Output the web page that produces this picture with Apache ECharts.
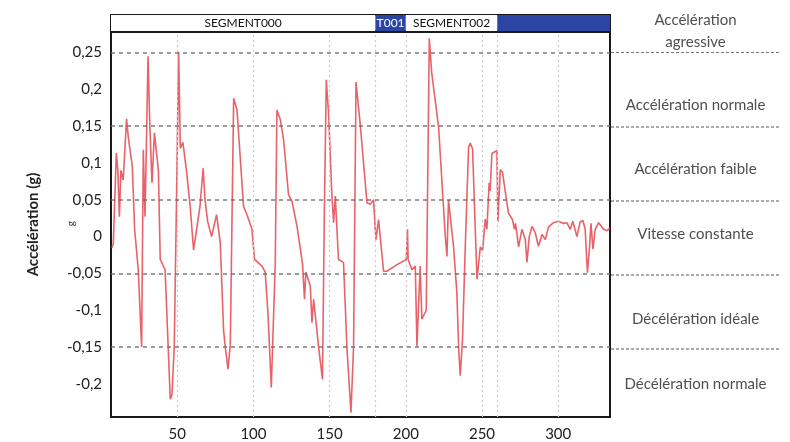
<!DOCTYPE html>
<html>
<head>
<meta charset="utf-8">
<script src="https://cdn.jsdelivr.net/npm/echarts@6/dist/echarts.min.js"></script>
<style>
    html, body { margin: 0; padding: 0; background: #fff; }
    #main { width: 790px; height: 442px; }
</style>
</head>
<body>
<div id="main"></div>
<script>
// temps (s) et accélération (g)
var timeS = [7, 8, 10, 11, 12, 13, 14.5, 16.7, 17.8, 20.5, 22, 24.4, 26.6, 27.7, 28.8, 29.5, 30.8, 32, 33.4, 35,
    37.6, 38.8, 42, 45.4, 46.5, 48, 49.5, 50.9, 52, 53.7, 56, 58.5, 60.7, 62, 64.9, 67, 68.2, 70, 72.5, 75.8,
    77, 78.2, 80.4, 81.5, 83.3, 84.8, 87, 89.2, 93.5, 95.7, 99, 100.7, 105.6, 107.7, 109.5, 111.7, 114.3, 115.4, 117.6, 119.8,
    123, 125.3, 128.6, 132.2, 133.5, 134.4, 137.3, 138.4, 139.5, 142.7, 145.3, 146.5, 147.8, 149.3, 151.5, 152.6, 153.7, 155.8, 159.1, 161.4,
    164, 165.7, 167.3, 170, 174.5, 176.6, 178.8, 180.4, 182.1, 185.4, 187.6, 194.2, 200.3, 201.1, 201.5, 204, 206.2, 207.3, 209.4, 210.5,
    213.4, 215.4, 217, 221.5, 225.9, 227, 228, 228.6, 231.3, 233.5, 234.6, 235.7, 237.2, 239, 241.2, 242.3, 243.8, 246.7, 248.9, 250.4,
    252.1, 253.2, 254.7, 255.3, 256.5, 259.8, 260.4, 262, 263.5, 265.2, 267.4, 270, 271.3, 272, 274, 276.2, 278.4, 279.5, 281, 282.8,
    285, 287, 289.4, 291.5, 293.6, 296.9, 300.2, 303.5, 305.7, 307.9, 309.6, 312.3, 314.4, 316.2, 317.7, 319.2, 320.6, 321.5, 322.8, 324.3,
    326.5, 329.8, 332, 334];
var accelG = [-0.015, -0.01, 0.114, 0.09, 0.027, 0.09, 0.077, 0.16, 0.136, 0.095, 0.01, -0.045, -0.15, 0.118, 0.027, 0.1, 0.245, 0.15, 0.073, 0.141,
    0.09, -0.031, -0.045, -0.221, -0.215, -0.15, 0.05, 0.251, 0.12, 0.128, 0.09, 0.04, -0.018, -0.016, 0.041, 0.093, 0.05, 0.02, 0.0, 0.03,
    0.03, -0.008, -0.128, -0.15, -0.18, -0.146, 0.188, 0.172, 0.041, 0.03, 0.01, -0.031, -0.04, -0.048, -0.103, -0.205, -0.037, 0.172, 0.159, 0.131,
    0.057, 0.048, 0.014, -0.037, -0.085, -0.048, -0.067, -0.117, -0.085, -0.149, -0.194, 0.03, 0.213, 0.167, 0.055, 0.019, 0.055, -0.031, -0.035, -0.153,
    -0.239, -0.149, 0.21, 0.154, 0.046, 0.044, 0.05, -0.004, 0.023, -0.047, -0.047, -0.038, -0.031, 0.01, -0.031, -0.045, -0.04, -0.149, -0.04, -0.112,
    -0.1, 0.269, 0.222, 0.149, 0.0, -0.027, 0.05, 0.05, -0.013, -0.076, -0.148, -0.189, -0.14, -0.014, 0.122, 0.127, 0.119, -0.058, -0.014, -0.019,
    0.024, 0.01, 0.073, 0.062, 0.113, 0.117, 0.02, 0.091, 0.087, 0.062, 0.032, 0.023, 0.01, 0.018, -0.014, 0.01, -0.004, -0.035, 0.0, 0.014,
    0.005, -0.013, 0.003, -0.004, 0.013, 0.019, 0.021, 0.018, 0.019, 0.01, 0.021, 0.0, 0.02, 0.022, 0.01, -0.049, -0.013, 0.018, -0.017, 0.01,
    0.019, 0.01, 0.008, 0.012];

var xTicks = [50, 100, 150, 200, 250, 300];
var yTicks = [-0.2, -0.15, -0.1, -0.05, 0, 0.05, 0.1, 0.15, 0.2, 0.25];
var thresholds = [0.25, 0.15, 0.05, -0.05, -0.15];

// segments du bandeau du haut
var segNames = ['SEGMENT000', 'T001', 'SEGMENT002', ''];
var segStart = [6.5, 180, 200, 260];
var segEnd = [180, 200, 260, 334];
var segBlue = [false, true, false, true];

// zones à droite
var zoneNames = ['Accélération\nagressive', 'Accélération normale', 'Accélération faible', 'Vitesse constante', 'Décélération idéale', 'Décélération normale'];
var zoneY = [0.279, 0.179, 0.093, 0.005, -0.11, -0.198];

var yMin = -0.245, yMax = 0.278;
var xMin = 6.5, xMax = 334;
var font = 'Lato';

var pts = [];
for (var i = 0; i < timeS.length; i++) {
    pts.push([timeS[i], accelG[i]]);
}

var gridLines = [];
for (var i = 0; i < xTicks.length; i++) {
    gridLines.push({xAxis: xTicks[i]});
}
gridLines.push({xAxis: 180}, {xAxis: 260});
for (var i = 0; i < thresholds.length; i++) {
    gridLines.push({
        yAxis: thresholds[i],
        lineStyle: {color: '#6b6b6b', type: [4, 4], width: 1.5, opacity: 0.9}
    });
}

var rightLines = [];
for (var i = 0; i < thresholds.length; i++) {
    rightLines.push({
        yAxis: thresholds[i],
        lineStyle: i == 0 ? {color: '#777', type: [3, 2], width: 1} : {color: '#aaa', type: [3, 2], width: 1.8}
    });
}

var segAreas = [];
for (var i = 0; i < segNames.length; i++) {
    segAreas.push([{
        xAxis: segStart[i],
        name: segNames[i],
        itemStyle: {color: segBlue[i] ? '#2c44a3' : '#ffffff', opacity: 1},
        label: {color: segBlue[i] ? '#ffffff' : '#111'}
    }, {xAxis: segEnd[i]}]);
}

var zonePts = [];
for (var i = 0; i < zoneNames.length; i++) {
    zonePts.push([0.5, zoneY[i], zoneNames[i]]);
}

var myChart = echarts.init(document.getElementById('main'));
var option = {
    animation: false,
    backgroundColor: '#fff',
    textStyle: {fontFamily: font},
    grid: [
        {left: 111, right: 180, top: 32, bottom: 23, show: true, borderColor: '#1a1a1a', borderWidth: 2, backgroundColor: '#fff'},
        {left: 111, right: 180, top: 15, height: 16, show: true, borderColor: '#1a1a1a', borderWidth: 2},
        {left: 611, right: 10, top: 32, bottom: 23}
    ],
    xAxis: [
        {
            gridIndex: 0, type: 'value', min: xMin, max: xMax,
            axisLine: {show: false}, axisTick: {show: false}, splitLine: {show: false},
            axisLabel: {customValues: xTicks, fontSize: 15, color: '#222', margin: 10}
        },
        {gridIndex: 1, type: 'value', min: xMin, max: xMax, show: false},
        {gridIndex: 2, type: 'value', min: 0, max: 1, show: false}
    ],
    yAxis: [
        {
            gridIndex: 0, type: 'value', min: yMin, max: yMax,
            name: 'Accélération (g)', nameLocation: 'middle', nameGap: 70,
            nameTextStyle: {fontSize: 15, fontWeight: 'bold', color: '#222'},
            axisLine: {show: false}, axisTick: {show: false}, splitLine: {show: false},
            axisLabel: {
                customValues: yTicks, fontSize: 15, color: '#222', margin: 9,
                formatter: function (v) {
                    return String(v).replace('.', ',');
                }
            }
        },
        {gridIndex: 1, type: 'value', min: 0, max: 1, show: false},
        {gridIndex: 2, type: 'value', min: yMin, max: yMax, show: false}
    ],
    graphic: [{
        type: 'text', left: 66, top: 221, rotation: Math.PI / 2,
        style: {text: 'g', fontSize: 10, fill: '#333', fontFamily: font}
    }],
    series: [
        {
            type: 'line', xAxisIndex: 0, yAxisIndex: 0, data: [], z: 1, silent: true,
            markLine: {
                silent: true, symbol: 'none', label: {show: false},
                lineStyle: {color: '#c8ccd4', type: [2, 3], width: 1.2},
                data: gridLines
            }
        },
        {
            name: 'Accélération', type: 'line', xAxisIndex: 0, yAxisIndex: 0, data: pts, z: 3,
            showSymbol: false, smooth: false,
            lineStyle: {color: '#e4464f', width: 1.6, opacity: 0.85}
        },
        {
            type: 'line', xAxisIndex: 1, yAxisIndex: 1, data: [], silent: true,
            markArea: {
                silent: true,
                label: {show: true, position: 'inside', fontSize: 12, fontFamily: font},
                data: segAreas
            }
        },
        {
            type: 'line', xAxisIndex: 2, yAxisIndex: 2, data: [], silent: true,
            markLine: {silent: true, symbol: 'none', label: {show: false}, data: rightLines}
        },
        {
            type: 'scatter', xAxisIndex: 2, yAxisIndex: 2, data: zonePts, clip: false, silent: true,
            symbolSize: 1, itemStyle: {color: 'transparent'},
            label: {
                show: true, position: 'inside', fontSize: 15, lineHeight: 22, color: '#222',
                formatter: function (p) {
                    return p.data[2];
                }
            }
        }
    ]
};
myChart.setOption(option);
</script>
</body>
</html>
